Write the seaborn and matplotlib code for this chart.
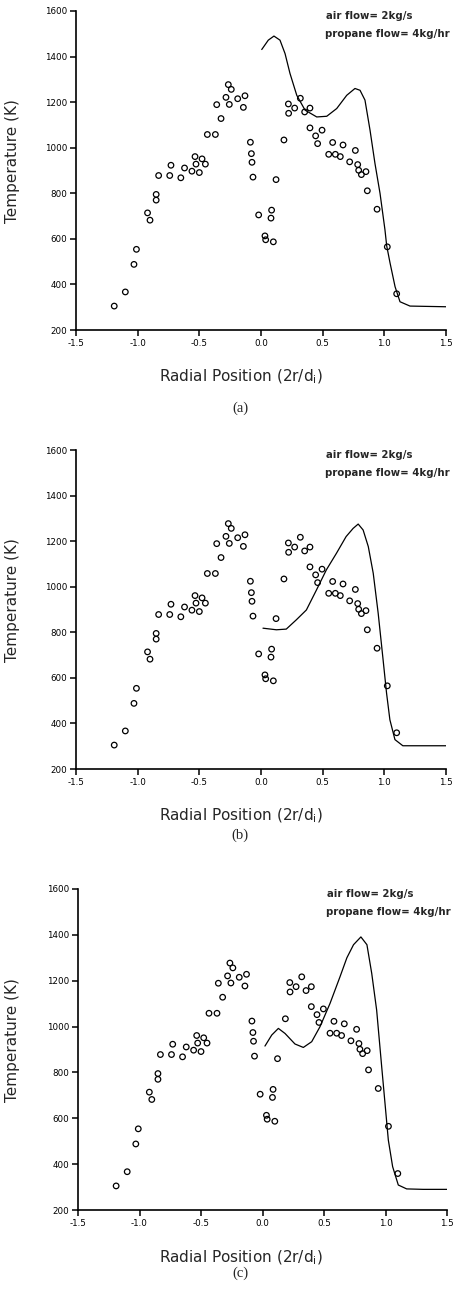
import numpy as np
import pandas as pd
import seaborn as sns
import matplotlib
matplotlib.use("Agg")
import matplotlib.pyplot as plt

# measured temperatures (same in all three panels)
meas_r = [-1.19, -1.10, -1.03, -1.01, -0.92, -0.90, -0.85, -0.85, -0.83, -0.74,
          -0.73, -0.65, -0.62, -0.56, -0.535, -0.527, -0.50, -0.478, -0.451, -0.435,
          -0.370, -0.359, -0.324, -0.284, -0.265, -0.241, -0.257, -0.189, -0.143, -0.130,
          -0.086, -0.078, -0.073, -0.065, -0.019, 0.032, 0.038, 0.086, 0.081, 0.100,
          0.122, 0.186, 0.222, 0.224, 0.273, 0.319, 0.354, 0.397, 0.397, 0.443,
          0.459, 0.495, 0.549, 0.581, 0.603, 0.643, 0.665, 0.719, 0.765, 0.784,
          0.792, 0.814, 0.851, 0.862, 0.941, 1.024, 1.100]
meas_T = [305, 367, 488, 554, 714, 682, 795, 770, 878, 878,
          923, 868, 911, 897, 961, 928, 891, 951, 928, 1058,
          1058, 1189, 1128, 1221, 1277, 1256, 1190, 1215, 1177, 1228,
          1024, 974, 936, 871, 705, 613, 596, 726, 691, 587,
          860, 1034, 1192, 1151, 1174, 1217, 1157, 1174, 1087, 1052,
          1018, 1077, 971, 1023, 971, 961, 1012, 938, 988, 926,
          901, 882, 895, 811, 730, 565, 359]

# model predictions
model_a_r = [0.006, 0.059, 0.105, 0.154, 0.195, 0.235, 0.29, 0.357, 0.452, 0.533,
             0.614, 0.695, 0.762, 0.803, 0.843, 0.884, 0.924, 0.965, 1.005, 1.019,
             1.046, 1.087, 1.127, 1.208, 1.5]
model_a_T = [1431, 1472, 1490, 1472, 1413, 1326, 1230, 1165, 1135, 1138,
             1172, 1230, 1260, 1252, 1209, 1077, 931, 800, 640, 570,
             495, 390, 324, 305, 302]

model_b_r = [0.016, 0.125, 0.205, 0.287, 0.368, 0.45, 0.53, 0.612, 0.69, 0.747,
             0.788, 0.828, 0.87, 0.91, 0.95, 0.99, 1.018, 1.045, 1.086, 1.15, 1.5]
model_b_T = [818, 811, 814, 855, 898, 986, 1074, 1147, 1220, 1256,
             1275, 1249, 1176, 1059, 884, 679, 533, 416, 329, 302, 302]

model_c_r = [0.020, 0.075, 0.129, 0.183, 0.264, 0.332, 0.400, 0.467, 0.549, 0.630,
             0.686, 0.74, 0.80, 0.849, 0.888, 0.928, 0.969, 0.996, 1.023, 1.058,
             1.104, 1.172, 1.307, 1.5]
model_c_T = [915, 963, 992, 970, 924, 909, 934, 999, 1101, 1217,
             1300, 1357, 1391, 1357, 1232, 1072, 825, 665, 505, 389,
             309, 292, 290, 290]

panel_labels = ["(a)", "(b)", "(c)"]
x_ticks = [-1.5, -1.0, -0.5, 0.0, 0.5, 1.0, 1.5]
y_ticks = [200, 400, 600, 800, 1000, 1200, 1400, 1600]

sns.set_style("ticks")
plt.rcParams['font.family'] = ['DejaVu Sans']
plt.rcParams['mathtext.fontset'] = 'dejavusans'

W, H = 459, 1301
fig = plt.figure(figsize=(W / 100, H / 100), dpi=100)

# axes boxes in pixels: left, top, right, bottom
boxes = [(76, 11, 446, 330), (76, 450, 446, 769), (78, 889, 447, 1210)]
caption_y = [408, 835, 1273]

meas = pd.DataFrame({"r": meas_r, "T": meas_T})
models = [(model_a_r, model_a_T), (model_b_r, model_b_T), (model_c_r, model_c_T)]

for (l, t, r, b), (mr, mT), lab, cy in zip(boxes, models, panel_labels, caption_y):
    ax = fig.add_axes([l / W, 1 - b / H, (r - l) / W, (b - t) / H])
    sns.lineplot(x=mr, y=mT, sort=False, estimator=None, color="black",
                 linewidth=0.9, ax=ax)
    sns.scatterplot(data=meas, x="r", y="T", marker="o", s=16,
                    facecolors="none", edgecolor="black", linewidth=0.9, ax=ax, zorder=3)
    ax.set_xlim(-1.5, 1.5)
    ax.set_ylim(200, 1600)
    ax.set_xticks(x_ticks)
    ax.set_xticklabels([f"{v:.1f}" for v in x_ticks])
    ax.set_yticks(y_ticks)
    ax.set_yticklabels([str(v) for v in y_ticks])
    ax.tick_params(axis="both", direction="out", length=4.5, width=1.1,
                   labelsize=6.3, pad=2, colors="black")
    for s in ("top", "right"):
        ax.spines[s].set_visible(False)
    for s in ("left", "bottom"):
        ax.spines[s].set_linewidth(1.2)
        ax.spines[s].set_color("black")
    ax.set_xlabel(r"Radial Position (2r/d$_\mathregular{i}$)", fontsize=11)
    ax.xaxis.set_label_coords((241 - l) / (r - l), -(368 - 330) / 319)
    ax.set_ylabel("Temperature (K)", fontsize=11)
    ax.yaxis.set_label_coords((20 - l) / (r - l), 0.53)
    ax.text(0.525, 1577, "air flow= 2kg/s", fontsize=7.3, fontweight="bold",
            va="center", ha="left")
    ax.text(0.52, 1498, "propane flow= 4kg/hr", fontsize=7.3, fontweight="bold",
            va="center", ha="left")
    fig.text(240 / W, 1 - cy / H, lab, family="Liberation Serif", fontsize=10.5,
             ha="center", va="center")

fig.savefig("out.png", dpi=100)
